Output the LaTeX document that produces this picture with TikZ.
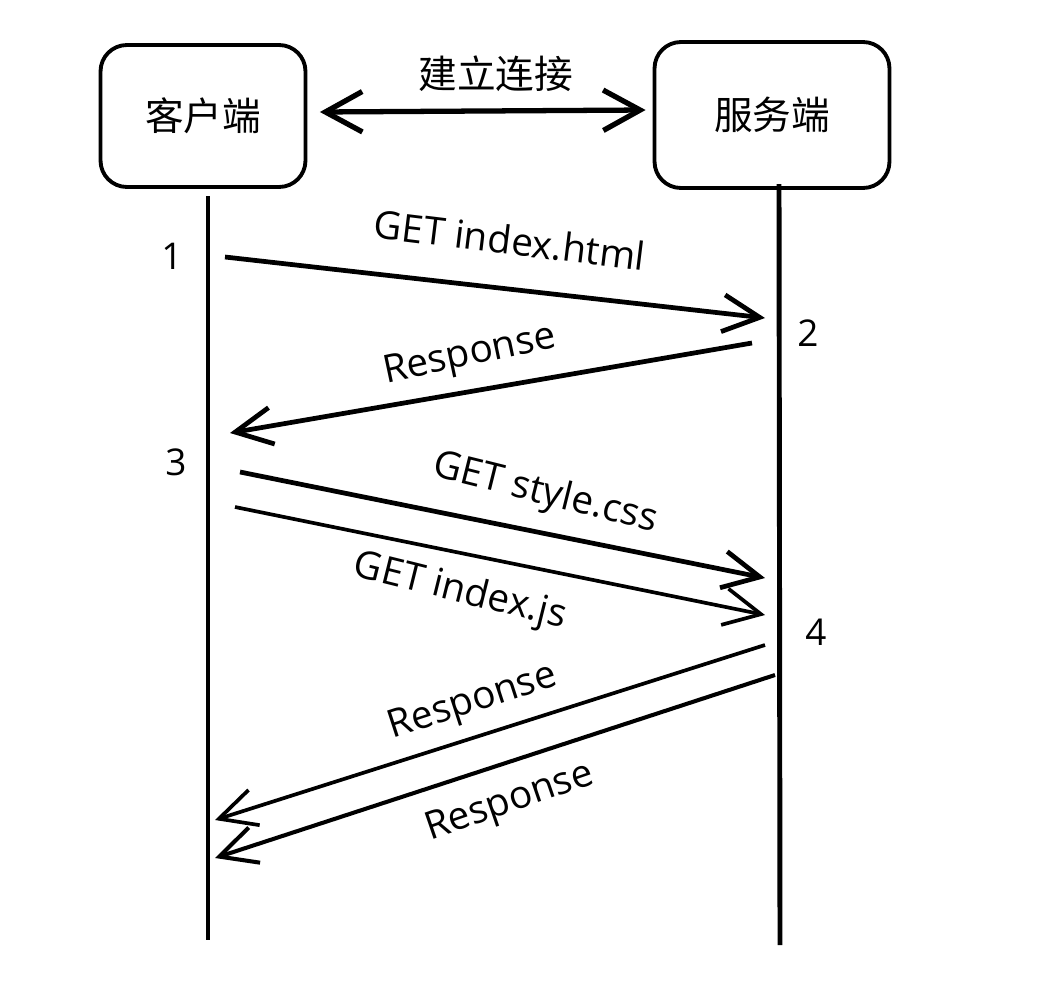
\documentclass[tikz,border=0pt]{standalone}
\usepackage{fontspec}
\setmainfont{Open Sans}
\newfontfamily\cjk{Noto Sans CJK SC}
\usetikzlibrary{arrows.meta,positioning}

\tikzset{
	party/.style={draw, line width=2.2pt, rounded corners=15pt, font=\cjk\fontsize{22}{26}\selectfont},
	life/.style={line width=2.2pt},
	msg/.style={line width=2.7pt, -{Straight Barb[length=21pt,width=21pt]}},
	lbl/.style={font=\fontsize{22}{26}\selectfont, inner sep=1pt},
	num/.style={font=\fontsize{21}{25}\selectfont}
}

\begin{document}
\begin{tikzpicture}[x=0.02cm,y=-0.02cm]
		\useasboundingbox (0,0) rectangle (1048,984);

		% client / server
		\node[party, minimum width=4.1cm, minimum height=2.84cm] (client) at (203,116) {客户端};
		\node[party, minimum width=4.7cm, minimum height=2.92cm] (server) at (772,115) {服务端};

		% connection
		\draw[line width=3pt, {Straight Barb[length=21pt,width=23pt]}-{Straight Barb[length=21pt,width=23pt]}]
			([xshift=0.25cm,yshift=0.08cm]client.east) -- ([xshift=-0.14cm,yshift=0.1cm]server.west)
			node[pos=0.54, above=6pt, font=\cjk\fontsize{22}{26}\selectfont] (estab) {建立连接};

		% lifelines
		\coordinate (ctop) at (208,196);
		\coordinate (cbot) at (208,940);
		\coordinate (stop) at (779,184);
		\coordinate (sbot) at (780,945);
		\draw[life] (ctop) -- (cbot);
		\draw[life, line width=2.8pt] (stop) -- (sbot);

		%---------------------
		% step 1
		%---------------------
		\node[num] (n1) at (172,256) {1};
		\coordinate (m1a) at (225,257);
		\coordinate (m1b) at (765,318);
		\draw[msg] (m1a) -- (m1b);
		\node[lbl, rotate=-7] (get1) at (510,240) {GET index.html};

		%---------------------
		% step 2
		%---------------------
		\node[num] (n2) at (808,333) {2};
		\coordinate (m2a) at (752,343);
		\coordinate (m2b) at (230,433);
		\draw[msg] (m2a) -- (m2b);
		\node[lbl, rotate=12] (resp1) at (470,356) {Response};

		%---------------------
		% step 3
		%---------------------
		\node[num] (n3) at (176,462) {3};
		\coordinate (m3a) at (240,472);
		\coordinate (m3b) at (765,578);
		\draw[msg] (m3a) -- (m3b);
		\node[lbl, rotate=-14] (get2) at (545,494) {GET style.css};

		\coordinate (m4a) at (235,507);
		\coordinate (m4b) at (765,615);
		\draw[msg, line width=2.1pt] (m4a) -- (m4b);
		\node[lbl, rotate=-14] (get3) at (460,592) {GET index.js};

		%---------------------
		% step 4
		%---------------------
		\node[num] (n4) at (816,632) {4};
		\coordinate (m5a) at (765,645);
		\coordinate (m5b) at (215,820);
		\draw[msg, line width=2.1pt] (m5a) -- (m5b);
		\node[lbl, rotate=18] (resp2) at (473,703) {Response};

		\coordinate (m6a) at (775,675);
		\coordinate (m6b) at (215,858);
		\draw[msg, line width=2.3pt] (m6a) -- (m6b);
		\node[lbl, rotate=19] (resp3) at (510,803) {Response};

\end{tikzpicture}
\end{document}
